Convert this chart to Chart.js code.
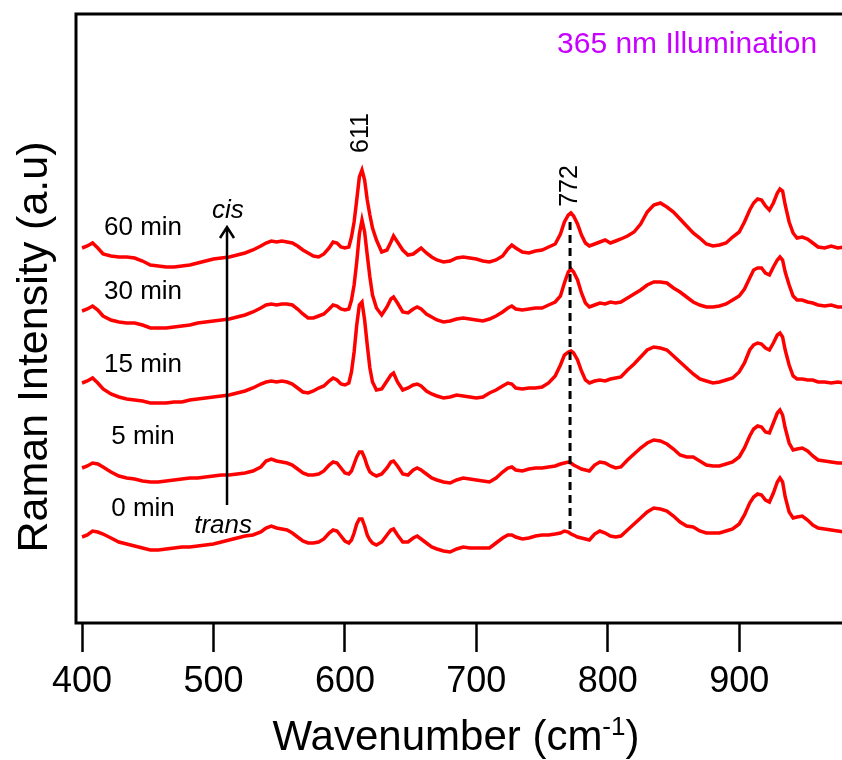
<!DOCTYPE html>
<html>
<head>
<meta charset="utf-8">
<script src="https://cdn.jsdelivr.net/npm/chart.js@4.4.1/dist/chart.umd.min.js"></script>
<style>
  html, body { margin: 0; padding: 0; background: #fff; overflow: hidden; }
  #wrap { width: 842px; height: 760px; overflow: hidden; }
</style>
</head>
<body>
<div id="wrap"><canvas id="raman" width="860" height="760"></canvas></div>
<script>
// Raman shift axis (cm-1), shared by all spectra
const wavenumbers = [
  400, 404, 408, 412, 416, 422, 428, 434, 440, 446,
  452, 458, 464, 470, 476, 482, 488, 494, 500, 506,
  512, 518, 524, 530, 536, 540, 544, 548, 552, 556,
  560, 564, 568, 572, 576, 580, 584, 588, 591, 594,
  597, 600, 603, 605, 607, 609, 611, 613, 615, 617,
  619, 621, 624, 628, 632, 635, 637, 640, 644, 648,
  652, 655, 658, 662, 666, 670, 675, 680, 685, 690,
  695, 700, 705, 710, 715, 720, 724, 727, 730, 735,
  740, 745, 750, 755, 760, 764, 767, 770, 772, 774,
  777, 780, 783, 786, 790, 794, 798, 802, 806, 810,
  815, 820, 825, 830, 835, 840, 845, 850, 855, 860,
  865, 870, 875, 880, 885, 890, 895, 900, 904, 908,
  911, 914, 917, 920, 923, 926, 929, 931, 933, 935,
  938, 941, 944, 948, 952, 956, 960, 965, 970, 975, 980
];

// stacked intensities (a.u.), one trace per illumination time
const spec0 = [
  86, 88, 92, 91, 89, 85, 81, 79, 77, 75,
  73, 73, 74, 75, 76, 76, 77, 78, 79, 81,
  83, 85, 87, 88, 91, 95, 97, 95, 94, 93,
  90, 86, 82, 80, 80, 81, 84, 90, 93, 92,
  87, 82, 80, 83, 90, 99, 104, 104, 97, 88,
  83, 80, 78, 81, 88, 93, 94, 88, 81, 81,
  85, 87, 84, 80, 76, 74, 72, 71, 74, 76,
  75, 75, 75, 75, 80, 85, 88, 88, 86, 84,
  85, 87, 88, 88, 89, 90, 92, 91, 89, 88,
  86, 85, 84, 83, 89, 92, 90, 87, 86, 87,
  93, 99, 105, 111, 115, 114, 112, 107, 101, 97,
  96, 92, 90, 90, 90, 92, 94, 99, 108, 120,
  126, 129, 128, 123, 121, 130, 141, 145, 141, 126,
  111, 105, 106, 107, 103, 98, 95, 94, 93, 92, 91
];
const spec5 = [
  155, 157, 160, 159, 156, 151, 147, 145, 144, 142,
  141, 141, 142, 143, 144, 145, 145, 146, 147, 148,
  148, 149, 150, 152, 156, 162, 164, 162, 161, 160,
  158, 154, 150, 148, 148, 149, 152, 158, 161, 160,
  155, 150, 149, 152, 159, 166, 171, 171, 165, 157,
  151, 149, 147, 149, 155, 161, 162, 157, 149, 148,
  153, 155, 153, 149, 145, 143, 141, 140, 143, 145,
  144, 143, 142, 141, 145, 151, 155, 156, 153, 152,
  154, 155, 155, 156, 157, 159, 160, 161, 160, 158,
  156, 154, 153, 152, 158, 161, 160, 157, 155, 156,
  163, 169, 175, 180, 183, 182, 179, 174, 168, 166,
  166, 162, 158, 157, 157, 159, 161, 166, 175, 187,
  194, 197, 196, 191, 190, 200, 210, 213, 208, 195,
  180, 173, 174, 175, 172, 167, 163, 162, 161, 160, 160
];
const spec15 = [
  240, 242, 245, 240, 234, 229, 226, 224, 223, 222,
  220, 220, 220, 221, 221, 223, 224, 225, 226, 227,
  228, 230, 232, 235, 239, 241, 242, 241, 242, 241,
  239, 235, 231, 230, 232, 235, 237, 242, 245, 243,
  239, 238, 240, 251, 271, 298, 318, 321, 303, 278,
  255, 241, 233, 234, 242, 248, 250, 241, 233, 235,
  238, 239, 237, 232, 229, 227, 225, 226, 228, 227,
  226, 225, 226, 230, 233, 237, 240, 239, 235, 234,
  235, 235, 236, 240, 247, 258, 268, 271, 272, 270,
  263, 252, 243, 240, 242, 243, 242, 244, 245, 246,
  253, 259, 266, 273, 276, 275, 273, 267, 261, 255,
  249, 244, 242, 240, 241, 243, 245, 251, 260, 273,
  278, 280, 279, 275, 273, 280, 288, 290, 286, 273,
  258, 247, 244, 244, 243, 243, 241, 241, 240, 241, 240
];
const spec30 = [
  312, 314, 317, 313, 307, 303, 301, 300, 300, 298,
  295, 295, 295, 296, 297, 298, 300, 301, 302, 303,
  304, 306, 308, 311, 315, 318, 319, 318, 319, 319,
  318, 314, 309, 305, 305, 307, 309, 314, 318, 317,
  314, 313, 314, 323, 338, 361, 389, 403, 391, 368,
  346, 328, 315, 308, 316, 324, 326, 320, 311, 310,
  314, 316, 314, 309, 306, 303, 301, 302, 304, 305,
  304, 303, 302, 304, 307, 311, 315, 317, 314, 313,
  314, 315, 315, 318, 321, 327, 340, 351, 354, 351,
  343, 330, 320, 316, 318, 320, 319, 321, 320, 321,
  325, 329, 333, 338, 341, 341, 340, 335, 331, 326,
  321, 318, 316, 316, 317, 319, 323, 327, 334, 345,
  353, 355, 355, 350, 348, 356, 363, 366, 363, 351,
  338, 327, 323, 323, 321, 320, 318, 317, 318, 316, 316
];
const spec60 = [
  375, 377, 380, 375, 369, 367, 366, 366, 365, 362,
  358, 357, 356, 356, 357, 358, 360, 362, 364, 365,
  366, 368, 370, 373, 377, 380, 382, 381, 382, 381,
  380, 377, 373, 370, 367, 366, 369, 375, 381, 380,
  376, 375, 376, 386, 401, 423, 446, 453, 443, 423,
  408, 395, 383, 371, 373, 381, 387, 381, 373, 368,
  369, 372, 375, 370, 366, 363, 361, 362, 365, 366,
  365, 364, 362, 361, 363, 367, 374, 378, 375, 371,
  370, 372, 373, 376, 379, 389, 401, 408, 410, 407,
  399, 388, 380, 377, 379, 381, 383, 380, 382, 384,
  387, 391, 399, 411, 418, 420, 416, 411, 404, 397,
  390, 385, 379, 377, 378, 380, 386, 391, 401, 413,
  420, 424, 423, 417, 413, 420, 430, 434, 432, 418,
  401, 390, 385, 386, 384, 380, 376, 375, 377, 375, 376
];

const xTicks = [400, 500, 600, 700, 800, 900];
const timeLabels = ['0 min', '5 min', '15 min', '30 min', '60 min'];
const spectra = [spec0, spec5, spec15, spec30, spec60];

const FONT = '"Liberation Sans", Arial, Helvetica, sans-serif';

// label anchors in data units (wavenumber, intensity)
const timeLabelAt = { wn: 446.4, y: [114, 186, 258, 331, 395] };
const peakLabels = [
  { text: '611', wn: 612.3, y: 490 },
  { text: '772', wn: 771.3, y: 437 }
];
const marker772 = { wn: 771.3, from: 401, to: 91 };
const arrow = { wn: 510.3, from: 118, to: 396 };

const decorations = {
  id: 'decorations',
  afterDraw(chart) {
    const { ctx, chartArea: a, scales: { x, y } } = chart;
    ctx.save();

    // plot frame
    ctx.strokeStyle = '#000';
    ctx.lineWidth = 3;
    ctx.strokeRect(a.left, a.top, a.right - a.left, a.bottom - a.top);

    // dashed guide under the 772 band
    const mx = x.getPixelForValue(marker772.wn);
    ctx.setLineDash([8, 5]);
    ctx.beginPath();
    ctx.moveTo(mx, y.getPixelForValue(marker772.from));
    ctx.lineTo(mx, y.getPixelForValue(marker772.to));
    ctx.stroke();
    ctx.setLineDash([]);

    // trans -> cis arrow
    const ax = x.getPixelForValue(arrow.wn);
    const tip = y.getPixelForValue(arrow.to);
    ctx.lineWidth = 2.5;
    ctx.beginPath();
    ctx.moveTo(ax, y.getPixelForValue(arrow.from));
    ctx.lineTo(ax, tip);
    ctx.moveTo(ax - 7, tip + 11);
    ctx.lineTo(ax, tip);
    ctx.lineTo(ax + 7, tip + 11);
    ctx.stroke();

    ctx.fillStyle = '#000';
    ctx.textAlign = 'center';
    ctx.textBaseline = 'middle';
    ctx.font = '26px ' + FONT;
    timeLabels.forEach((t, i) => {
      ctx.fillText(t, x.getPixelForValue(timeLabelAt.wn), y.getPixelForValue(timeLabelAt.y[i]));
    });

    ctx.font = 'italic 26px ' + FONT;
    ctx.textBaseline = 'alphabetic';
    ctx.fillText('cis', x.getPixelForValue(511), y.getPixelForValue(405));
    ctx.fillText('trans', x.getPixelForValue(507.3), y.getPixelForValue(90));

    // rotated peak positions
    ctx.font = '25px ' + FONT;
    ctx.textBaseline = 'middle';
    peakLabels.forEach(p => {
      ctx.save();
      ctx.translate(x.getPixelForValue(p.wn), y.getPixelForValue(p.y));
      ctx.rotate(-Math.PI / 2);
      ctx.fillText(p.text, 0, 0);
      ctx.restore();
    });

    ctx.fillStyle = 'rgb(200, 0, 255)';
    ctx.font = '30px ' + FONT;
    ctx.textAlign = 'left';
    ctx.textBaseline = 'alphabetic';
    ctx.fillText('365 nm Illumination', x.getPixelForValue(761.4), y.getPixelForValue(570));

    // axis titles
    ctx.fillStyle = '#000';
    ctx.save();
    ctx.translate(47, 347);
    ctx.rotate(-Math.PI / 2);
    ctx.textAlign = 'center';
    ctx.font = '43px ' + FONT;
    ctx.fillText('Raman Intensity (a.u)', 0, 0);
    ctx.restore();

    const big = '42px ' + FONT, small = '26px ' + FONT;
    ctx.font = big;
    const w1 = ctx.measureText('Wavenumber (cm').width;
    const w3 = ctx.measureText(')').width;
    ctx.font = small;
    const w2 = ctx.measureText('-1').width;
    let tx = 456 - (w1 + w2 + w3) / 2;
    const base = 750;
    ctx.textAlign = 'left';
    ctx.font = big;
    ctx.fillText('Wavenumber (cm', tx, base);
    tx += w1;
    ctx.font = small;
    ctx.fillText('-1', tx, base - 15);
    tx += w2;
    ctx.font = big;
    ctx.fillText(')', tx, base);

    ctx.restore();
  }
};

new Chart(document.getElementById('raman'), {
  type: 'line',
  data: {
    datasets: spectra.map((s, i) => ({
      label: timeLabels[i],
      data: wavenumbers.map((w, j) => ({ x: w, y: s[j] })),
      borderColor: '#ff0000',
      borderWidth: 3.5,
      pointRadius: 0,
      tension: 0,
      fill: false
    }))
  },
  options: {
    responsive: false,
    animation: false,
    devicePixelRatio: 1,
    layout: { padding: { left: 76, top: 14, right: 10, bottom: 0 } },
    plugins: { legend: { display: false }, tooltip: { enabled: false } },
    scales: {
      x: {
        type: 'linear',
        min: 395.4,
        max: 984.3,
        afterBuildTicks: s => { s.ticks = xTicks.map(v => ({ value: v })); },
        afterFit: s => { s.height = 137; },
        grid: { display: true, drawOnChartArea: false, drawTicks: true, tickLength: 29, tickWidth: 2.5, tickColor: '#000' },
        border: { display: false },
        ticks: { color: '#000', font: { family: FONT, size: 36 }, padding: 8, maxRotation: 0, autoSkip: false }
      },
      y: { type: 'linear', display: false, min: 0, max: 609 }
    }
  },
  plugins: [decorations]
});
</script>
</body>
</html>
